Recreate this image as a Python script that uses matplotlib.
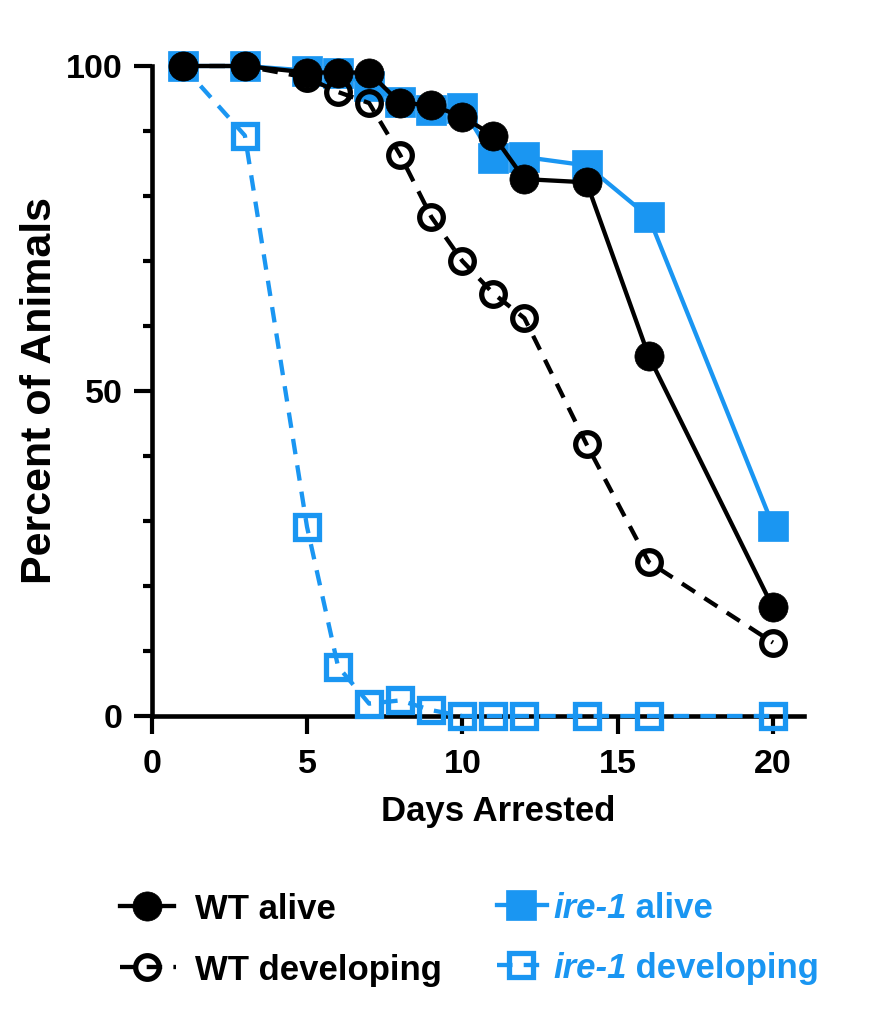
import matplotlib
matplotlib.use('Agg')
import matplotlib.pyplot as plt
from matplotlib.lines import Line2D
from matplotlib.ticker import MultipleLocator

plt.rcParams['font.family'] = ['Liberation Sans', 'DejaVu Sans']
plt.rcParams['font.weight'] = 'bold'

# data
days = [1, 3, 5, 6, 7, 8, 9, 10, 11, 12, 14, 16, 20]
wt_alive = [100, 100, 99, 99, 99, 94.3, 94, 92.2, 89.3, 82.6, 82.1, 55.4, 16.7]
wt_dev = [100, 100, 98.2, 96, 94.3, 86.3, 76.8, 70.0, 65.0, 61.2, 41.8, 23.7, 11.3]
ire_alive = [100, 100, 99.3, 99, 97, 94.5, 93.2, 93.6, 85.8, 86.0, 84.7, 76.8, 29.3]
ire_dev = [100, 89.3, 29.1, 7.6, 1.9, 2.4, 0.9, 0, 0, 0, 0, 0, 0]

BLUE = '#1a96f2'
W, H = 883, 1015
LW = 3.1
DASH = (0, (3.6, 2.6))
MS_F, MS_O, MEW_O = 21, 17, 3.8

fig = plt.figure(figsize=(8.83, 10.15), dpi=100)
ax = fig.add_axes([151.7/W, 1-716/H, (804-151.7)/W, (716-66)/H])

ax.plot(days, ire_alive, '-s', color=BLUE, lw=LW, ms=MS_F, mec=BLUE, mew=0.5,
        clip_on=False, zorder=3)
ax.plot(days, ire_dev, 's', color=BLUE, ls=DASH, lw=LW, ms=MS_O,
        mfc='none', mec=BLUE, mew=MEW_O, clip_on=False, zorder=4)
ax.plot(days, wt_dev, 'o', color='black', ls=DASH, lw=LW, ms=MS_O,
        mfc='none', mec='black', mew=MEW_O, clip_on=False, zorder=5)
ax.plot(days, wt_alive, '-o', color='black', lw=LW, ms=MS_F, mec='black', mew=0.5,
        clip_on=False, zorder=6)

ax.set_xlim(0, 21)
ax.set_ylim(0, 100)
ax.set_xticks([0, 5, 10, 15, 20])
ax.set_yticks([0, 50, 100])
ax.yaxis.set_minor_locator(MultipleLocator(10))
for s in ['top', 'right']:
    ax.spines[s].set_visible(False)
for s in ['left', 'bottom']:
    ax.spines[s].set_linewidth(3.3)
    ax.spines[s].set_zorder(2)
ax.tick_params(axis='both', which='major', length=13, width=3.0, labelsize=24.5)
ax.tick_params(axis='y', which='minor', length=6.5, width=3.0)
ax.tick_params(axis='x', pad=11)
ax.tick_params(axis='y', pad=8)

fig.text(40/W, 1-390/H, 'Percent of Animals', rotation=90, fontsize=31,
         ha='center', va='center')
fig.text(498/W, 1-812/H, 'Days Arrested', fontsize=25, ha='center', va='center')

# legend drawn by hand (label is partly italic)
def handle(x0, x1, xm, y, color, ls, marker, filled):
    fig.add_artist(Line2D([x0/W, x1/W], [1-y/H, 1-y/H], color=color, lw=LW,
                          ls=ls, transform=fig.transFigure))
    if filled:
        fig.add_artist(Line2D([xm/W], [1-y/H], marker=marker, ms=MS_F, color=color,
                              mec=color, mew=0.5, transform=fig.transFigure))
    else:
        fig.add_artist(Line2D([xm/W], [1-y/H], marker=marker, ms=MS_O, mfc='none',
                              mec=color, mew=MEW_O, transform=fig.transFigure))

handle(120, 174, 147, 906, 'black', '-', 'o', True)
handle(120, 176, 147, 967, 'black', DASH, 'o', False)
handle(497, 547, 521, 905, BLUE, '-', 's', True)
handle(497, 549, 521, 965, BLUE, DASH, 's', False)

fig.text(195/W, 1-906/H, 'WT alive', fontsize=25, va='center_baseline')
fig.text(195/W, 1-967/H, 'WT developing', fontsize=25, va='center_baseline')
for y, rest in [(905, ' alive'), (965, ' developing')]:
    t = fig.text(553/W, 1-y/H, 'ire-1', fontsize=25, style='italic', color=BLUE,
                 va='center_baseline')
    fig.add_artist(plt.Annotation(rest, xy=(1, 0), xycoords=t, fontsize=25,
                                  color=BLUE, va='bottom', ha='left',
                                  annotation_clip=False))

fig.savefig('out.png', dpi=100)
